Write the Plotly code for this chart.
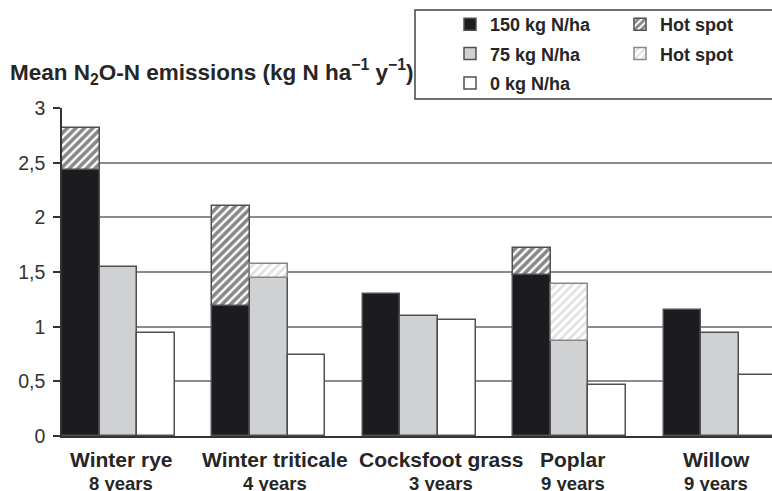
import plotly.graph_objects as go

# ---- data ----
crops = ["Winter rye", "Winter triticale", "Cocksfoot grass", "Poplar", "Willow"]
years = ["8 years", "4 years", "3 years", "9 years", "9 years"]
n150 = [2.43, 1.19, 1.30, 1.47, 1.15]
n75 = [1.55, 1.45, 1.10, 0.87, 0.94]
n0 = [0.94, 0.74, 1.06, 0.47, 0.56]
hot150_top = [2.82, 2.10, None, 1.72, None]
hot75_top = [None, 1.57, None, 1.39, None]
yticks = [0, 0.5, 1, 1.5, 2, 2.5, 3]

FONT = "Liberation Sans"
TXT = "#262626"
EDGE = "#505050"

n = len(crops)
x150 = [4 * i + 0.5 for i in range(n)]
x75 = [4 * i + 1.5 for i in range(n)]
x0 = [4 * i + 2.5 for i in range(n)]

def hot(xs, base, top):
    xx, bb, hh = [], [], []
    for x, b, t in zip(xs, base, top):
        if t is not None:
            xx.append(x); bb.append(b); hh.append(t - b)
    return xx, bb, hh

fig = go.Figure()
line = dict(color=EDGE, width=1.5)

fig.add_trace(go.Bar(x=x150, y=n150, width=1, name="<b>150 kg N/ha</b>", legendgroup="a",
                     marker=dict(color="#1c1c20", line=line), legend="legend"))
fig.add_trace(go.Bar(x=x75, y=n75, width=1, name="<b>75 kg N/ha</b>", legendgroup="b",
                     marker=dict(color="#d0d1d3", line=line), legend="legend"))
fig.add_trace(go.Bar(x=x0, y=n0, width=1, name="<b>0 kg N/ha</b>", legendgroup="c",
                     marker=dict(color="#ffffff", line=line), legend="legend"))

hx, hb, hh = hot(x150, n150, hot150_top)
fig.add_trace(go.Bar(x=hx, y=hh, base=hb, width=1, name="<b>Hot spot</b>", legendgroup="d",
                     marker=dict(color="#ffffff", line=line,
                                 pattern=dict(shape="/", fgcolor="#101012", bgcolor="#ffffff",
                                              size=6, solidity=0.6)),
                     legend="legend2"))
hx, hb, hh = hot(x75, n75, hot75_top)
fig.add_trace(go.Bar(x=hx, y=hh, base=hb, width=1, name="<b>Hot spot</b>", legendgroup="e",
                     marker=dict(color="#ffffff", line=dict(color="#888888", width=1.5),
                                 pattern=dict(shape="/", fgcolor="#c4c4c4", bgcolor="#ffffff",
                                              size=6, solidity=0.45)),
                     legend="legend2"))

# group labels
label_shift = [0.07, 0.17, 0.58, 0.09, -0.1]
annotations = []
for i in range(n):
    xc = x75[i] + label_shift[i]
    annotations.append(dict(x=xc, y=-0.073, xref="x", yref="paper", text="<b>%s</b>" % crops[i],
                            showarrow=False, xanchor="center", yanchor="middle",
                            font=dict(family=FONT, size=21, color=TXT)))
    annotations.append(dict(x=xc, y=-0.146, xref="x", yref="paper", text="<b>%s</b>" % years[i],
                            showarrow=False, xanchor="center", yanchor="middle",
                            font=dict(family=FONT, size=18.5, color=TXT)))

W, H = 772, 491
L, R, T, B = 62, 0, 108, 55
pw = W - L - R
ph = H - T - B
slot = 37.6
xmax = pw / slot

def px2paper_x(px):
    return (px - L) / pw

def py2paper_y(py):
    return (H - B - py) / ph

legend_font = dict(family=FONT, size=18, color=TXT)
fig.update_layout(
    width=W, height=H,
    margin=dict(l=L, r=R, t=T, b=B, pad=0, autoexpand=False),
    plot_bgcolor="white", paper_bgcolor="white",
    barmode="overlay",
    separators=",.",
    bargap=0,
    title=dict(text="<b>Mean N<sub>2</sub>O-N emissions (kg N ha<sup>\u22121</sup> y<sup>\u22121</sup>)</b>",
               x=10 / W, xanchor="left", y=1 - 72 / H, yanchor="middle", xref="container", yref="container",
               font=dict(family=FONT, size=22.5, color=TXT)),
    xaxis=dict(range=[0, xmax], showgrid=False, zeroline=False, showticklabels=False, ticks="",
               showline=True, linecolor="#333333", linewidth=2, fixedrange=True),
    yaxis=dict(range=[0, 3.001], tickvals=yticks, showgrid=True, gridcolor="#8c8c8c", gridwidth=1.5,
               zeroline=False, showline=True, linecolor="#333333", linewidth=1.5,
               ticks="outside", ticklen=7, tickcolor="#333333", tickwidth=1.5,
               ticklabelstandoff=4, fixedrange=True,
               tickfont=dict(family=FONT, size=19.5, color="#333333")),
    legend=dict(xref="container", yref="container", x=450 / W, y=1 - 6 / H,
                xanchor="left", yanchor="top", bgcolor="rgba(0,0,0,0)", borderwidth=0,
                font=legend_font, itemwidth=30, tracegroupgap=3, traceorder="grouped"),
    legend2=dict(xref="container", yref="container", x=620 / W, y=1 - 6 / H,
                 xanchor="left", yanchor="top", bgcolor="rgba(0,0,0,0)", borderwidth=0,
                 font=legend_font, itemwidth=30, tracegroupgap=3, traceorder="grouped"),
    annotations=annotations,
    shapes=[dict(type="rect", xref="paper", yref="paper",
                 x0=px2paper_x(415), x1=px2paper_x(790), y0=py2paper_y(99), y1=py2paper_y(10),
                 line=dict(color="#444444", width=1.5), fillcolor="white", layer="above")],
    showlegend=True,
)

fig.write_html("out.html", config={"displayModeBar": False},
               post_script="document.body.style.margin='0';document.body.style.padding='0';")
